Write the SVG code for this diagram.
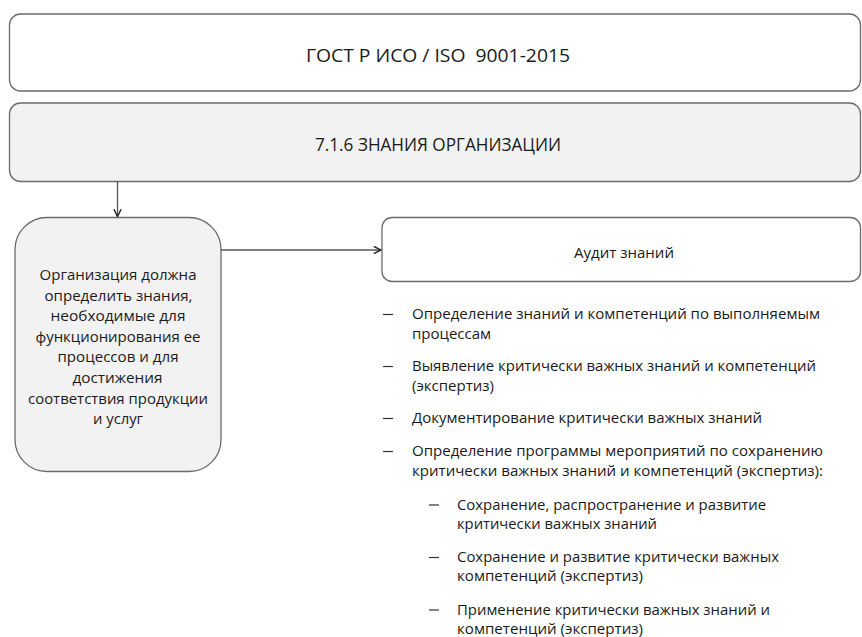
<svg xmlns="http://www.w3.org/2000/svg" width="862" height="637" viewBox="0 0 862 637">
<defs>
<marker id="arr" viewBox="0 0 10 10" refX="9" refY="5" markerWidth="9" markerHeight="9" markerUnits="userSpaceOnUse" orient="auto">
<path d="M1,1 L9,5 L1,9" fill="none" stroke="#222" stroke-width="1.6"/>
</marker>
<style>
.box{stroke:#6b6b6b;stroke-width:1.3}
.t{font-family:"Open Sans","Liberation Sans",sans-serif;fill:#1a1a1a}
.h{font-size:19px}
.b{font-size:15px}
.l{font-size:15px}
.dash{stroke:#333;stroke-width:1.2}
</style>
</defs>
<rect width="862" height="637" fill="#ffffff"/>
<g id="gost">
<rect class="box" x="9.5" y="14" width="851" height="77" rx="11" fill="#ffffff"/>
<text class="t h" x="438" y="62" text-anchor="middle" textLength="264" lengthAdjust="spacingAndGlyphs" xml:space="preserve">ГОСТ Р ИСО / ISO  9001-2015</text>
</g>
<g id="knowledge">
<rect class="box" x="9.5" y="103" width="851" height="78.5" rx="11" fill="#f2f2f2"/>
<text class="t h" x="438" y="150.5" text-anchor="middle" textLength="246" lengthAdjust="spacingAndGlyphs">7.1.6 ЗНАНИЯ ОРГАНИЗАЦИИ</text>
</g>
<g id="org">
<rect class="box" x="15" y="217.5" width="206" height="254" rx="32" fill="#f2f2f2"/>
<g class="t b" text-anchor="middle">
<text x="118" y="280" textLength="157" lengthAdjust="spacingAndGlyphs">Организация должна</text>
<text x="118.5" y="300.6" textLength="148" lengthAdjust="spacingAndGlyphs">определить знания,</text>
<text x="118" y="321.2" textLength="135" lengthAdjust="spacingAndGlyphs">необходимые для</text>
<text x="118" y="341.8" textLength="165" lengthAdjust="spacingAndGlyphs">функционирования ее</text>
<text x="118" y="362.4" textLength="121" lengthAdjust="spacingAndGlyphs">процессов и для</text>
<text x="117.5" y="383" textLength="90" lengthAdjust="spacingAndGlyphs">достижения</text>
<text x="118" y="403.6" textLength="180" lengthAdjust="spacingAndGlyphs">соответствия продукции</text>
<text x="118" y="424.2" textLength="50" lengthAdjust="spacingAndGlyphs">и услуг</text>
</g>
</g>
<g id="audit">
<rect class="box" x="382" y="217.5" width="478.5" height="64" rx="10" fill="#ffffff"/>
<text class="t b" x="624" y="258" text-anchor="middle" textLength="100" lengthAdjust="spacingAndGlyphs">Аудит знаний</text>
</g>
<g id="audit-list" class="t l">
<line class="dash" x1="383" y1="314.5" x2="393" y2="314.5"/>
<text x="412" y="319" textLength="408" lengthAdjust="spacingAndGlyphs">Определение знаний и компетенций по выполняемым</text>
<text x="412" y="339" textLength="79" lengthAdjust="spacingAndGlyphs">процессам</text>
<line class="dash" x1="383" y1="366.5" x2="393" y2="366.5"/>
<text x="412" y="371" textLength="404" lengthAdjust="spacingAndGlyphs">Выявление критически важных знаний и компетенций</text>
<text x="412" y="391" textLength="82" lengthAdjust="spacingAndGlyphs">(экспертиз)</text>
<line class="dash" x1="383" y1="418.5" x2="393" y2="418.5"/>
<text x="412" y="423" textLength="350" lengthAdjust="spacingAndGlyphs">Документирование критически важных знаний</text>
<line class="dash" x1="383" y1="451.5" x2="393" y2="451.5"/>
<text x="412" y="456" textLength="411" lengthAdjust="spacingAndGlyphs">Определение программы мероприятий по сохранению</text>
<text x="412" y="476" textLength="411" lengthAdjust="spacingAndGlyphs">критически важных знаний и компетенций (экспертиз):</text>
<line class="dash" x1="429" y1="505" x2="439" y2="505"/>
<text x="457" y="509.5" textLength="309" lengthAdjust="spacingAndGlyphs">Сохранение, распространение и развитие</text>
<text x="457" y="529" textLength="200" lengthAdjust="spacingAndGlyphs">критически важных знаний</text>
<line class="dash" x1="429" y1="557.5" x2="439" y2="557.5"/>
<text x="457" y="562" textLength="322" lengthAdjust="spacingAndGlyphs">Сохранение и развитие критически важных</text>
<text x="457" y="581" textLength="186" lengthAdjust="spacingAndGlyphs">компетенций (экспертиз)</text>
<line class="dash" x1="429" y1="610" x2="439" y2="610"/>
<text x="457" y="614.5" textLength="313" lengthAdjust="spacingAndGlyphs">Применение критически важных знаний и</text>
<text x="457" y="633.5" textLength="186" lengthAdjust="spacingAndGlyphs">компетенций (экспертиз)</text>
</g>
<g id="connectors" fill="none" stroke="#555" stroke-width="1.3">
<line x1="117.5" y1="181.5" x2="117.5" y2="216.5" marker-end="url(#arr)"/>
<line x1="221" y1="250" x2="381" y2="250" marker-end="url(#arr)"/>
</g>
</svg>
